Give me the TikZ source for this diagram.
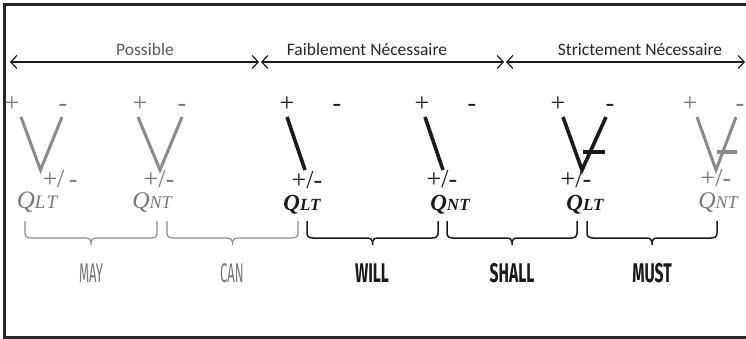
\documentclass[tikz,border=0pt]{standalone}
\usepackage{fontspec}
\setmainfont{Liberation Serif}
\newfontfamily\calib{Carlito}
\newfontfamily\condreg[FakeStretch=0.48]{Fira Sans}
\newfontfamily\condbold[FakeStretch=0.58]{Fira Sans}
\usetikzlibrary{arrows.meta,calc}
\definecolor{lightg}{HTML}{8A8A8A}
\definecolor{textg}{HTML}{777777}
\definecolor{darkk}{HTML}{1A1A1A}
\newcommand\mybrace[3]{%
  \pgfmathsetmacro\bxm{(#1+#2)/2}
  \draw[#3] (#1,221) -- (#1,233) .. controls (#1,236.5) and ({#1+2},238) .. ({#1+6},238)
     -- ({\bxm-6},238) .. controls ({\bxm-2},238) and (\bxm,239.5) .. (\bxm,242) -- (\bxm,245);
  \draw[#3] (#2,221) -- (#2,233) .. controls (#2,236.5) and ({#2-2},238) .. ({#2-6},238)
     -- ({\bxm+6},238) .. controls ({\bxm+2},238) and (\bxm,239.5) .. (\bxm,242);
}
\begin{document}
\begin{tikzpicture}[x=1pt,y=-1pt,
  span/.style={{Straight Barb[length=6pt,width=13pt,line width=1.2pt]}-{Straight Barb[length=6pt,width=13pt,line width=1.2pt]}, line width=1.2pt, draw=darkk},
  toplbl/.style={anchor=base, inner sep=0pt, font=\calib\fontsize{17.5}{18}\selectfont},
  sign/.style={anchor=base, inner sep=0pt, font=\fontsize{26}{26}\selectfont},
  qlbl/.style={anchor=base, inner sep=0pt, font=\itshape},
  qlblb/.style={anchor=base, inner sep=0pt, font=\bfseries\itshape},
  grayst/.style={draw=lightg, line width=3pt},
  blackst/.style={draw=darkk, line width=3.6pt},
  gbrace/.style={draw=lightg, line width=1.2pt},
  kbrace/.style={draw=darkk, line width=1.5pt},
  modg/.style={anchor=base, inner sep=0pt, text=textg, font=\condreg\fontsize{27}{27}\selectfont},
  modk/.style={anchor=base, inner sep=0pt, text=darkk, font=\condbold\bfseries\fontsize{27}{27}\selectfont}
]
\useasboundingbox (0,0) rectangle (746,339);
\draw[line width=2.6pt, draw=black!85] (750,4.5) -- (4.5,4.5) -- (4.5,337.5) -- (750,337.5);

% top spans
\coordinate (p0) at (10,62);  \coordinate (p1) at (259,62);
\coordinate (f0) at (261,62); \coordinate (f1) at (504,62);
\coordinate (s0) at (506,62); \coordinate (s1) at (745,62);
\draw[span] (p0) -- (p1);
\draw[span] (f0) -- (f1);
\draw[span] (s0) -- (s1);
\node[toplbl, text=black!65] (tpos) at (145,56) {Possible};
\node[toplbl, text=black!85] (tfai) at (367,56) {Faiblement Nécessaire};
\node[toplbl, text=black!85] (tstr) at (640,56) {Strictement Nécessaire};

% signs at top
\foreach \px/\mx/\c [count=\i] in {12/63/textg, 140/182/textg, 287/337/darkk, 422/472/darkk, 558/610/darkk, 690/740/textg}{
  \node[sign, text=\c] (plus\i) at (\px,112) {+};
  \node[sign, text=\c] (minus\i) at (\mx,112) {-};
}

% strokes
\draw[grayst] (21,117) -- (40.5,170) -- (62,117);
\draw[grayst] (138,117) -- (160,170) -- (182,117);
\draw[blackst] (287,117) -- (305,170);
\draw[blackst] (425,117) -- (443,170);
\draw[blackst] (563,117) -- (582,170) -- (606,117);
\draw[blackst, line width=4pt] (583,152) -- (605,152);
\draw[grayst] (697,117) -- (716,170) -- (736,117);
\draw[grayst, line width=3.6pt] (717,152) -- (737,152);

% +/- labels
\node[sign, text=textg] (pm1) at (60,187) {+/\,-};
\node[sign, text=textg] (pm2) at (159,187) {+/-};
\node[sign, text=darkk] (pm3) at (307,188) {+/-};
\node[sign, text=darkk] (pm4) at (442,187.5) {+/-};
\node[sign, text=darkk] (pm5) at (576,187.5) {+/-};
\node[sign, text=textg] (pm6) at (716,186.5) {+/-};

% Q labels
\node[qlbl, text=textg] (q1) at (37,208) {\fontsize{25}{25}\selectfont Q\fontsize{19}{19}\selectfont L\kern1pt T};
\node[qlbl, text=textg] (q2) at (152,208) {\fontsize{24}{24}\selectfont Q\fontsize{18}{18}\selectfont NT};
\node[qlblb, text=darkk] (q3) at (302,210) {\fontsize{23}{23}\selectfont Q\fontsize{17}{17}\selectfont LT};
\node[qlblb, text=darkk] (q4) at (450,210.5) {\fontsize{23}{23}\selectfont Q\fontsize{17}{17}\selectfont NT};
\node[qlblb, text=darkk] (q5) at (585,210.5) {\fontsize{23}{23}\selectfont Q\fontsize{17}{17}\selectfont LT};
\node[qlbl, text=textg] (q6) at (718,208.5) {\fontsize{24}{24}\selectfont Q\fontsize{18}{18}\selectfont NT};

% braces
\mybrace{25}{157}{gbrace}
\mybrace{167}{298}{gbrace}
\mybrace{307}{438}{kbrace}
\mybrace{447}{577}{kbrace}
\mybrace{587}{717}{kbrace}

\node[modg] (may) at (91,282) {MAY};
\node[modg] (can) at (232,282) {CAN};
\node[modk] (will) at (372,282) {WILL};
\node[modk] (shall) at (512,282) {SHALL};
\node[modk] (must) at (652,282) {MUST};
\end{tikzpicture}
\end{document}
